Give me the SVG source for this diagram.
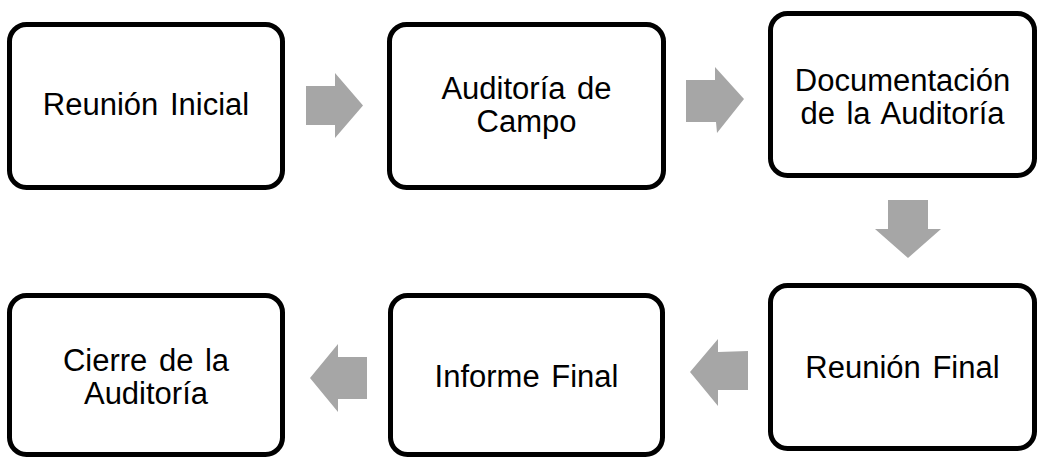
<svg xmlns="http://www.w3.org/2000/svg" width="1040" height="458" viewBox="0 0 1040 458">
<style>
.box{fill:#fff;stroke:#000;stroke-width:5}
.t{font-family:"Liberation Sans",Arial,sans-serif;font-size:31px;fill:#000;text-anchor:middle;word-spacing:3px}
.arr{fill:#a6a6a6}
</style>
<rect width="1040" height="458" fill="#fff"/>
<g id="n1"><rect class="box" x="9.5" y="24.5" width="273" height="163" rx="17"/><text class="t" x="146" y="115">Reunión Inicial</text></g>
<g id="n2"><rect class="box" x="389.5" y="24.5" width="274" height="163" rx="17"/><text class="t" x="526.5" y="99">Auditoría de</text><text class="t" x="526.5" y="132">Campo</text></g>
<g id="n3"><rect class="box" x="770.5" y="13.5" width="264" height="162" rx="17"/><text class="t" x="902.5" y="91">Documentación</text><text class="t" x="902.5" y="124">de la Auditoría</text></g>
<g id="n4"><rect class="box" x="770.5" y="285.5" width="264" height="163" rx="17"/><text class="t" x="902.5" y="378">Reunión Final</text></g>
<g id="n5"><rect class="box" x="390.5" y="295.5" width="272" height="159" rx="17"/><text class="t" x="526.5" y="387">Informe Final</text></g>
<g id="n6"><rect class="box" x="9.5" y="295.5" width="273" height="159" rx="17"/><text class="t" x="146" y="371">Cierre de la</text><text class="t" x="146" y="404">Auditoría</text></g>
<g id="connectors">
<polygon class="arr" points="306,86 335,86 335,73 363,105.5 335,138 335,125 306,125"/>
<polygon class="arr" points="686,80 715,80 715,67 744,99 717,133 716,122 686,122"/>
<polygon class="arr" points="888,200 928,200 928,229 941,229 908,258 875,229 888,229"/>
<polygon class="arr" points="748,351 718,352 718,339 690,372 718,406 718,390 748,390"/>
<polygon class="arr" points="367,357 338,357 338,344 310,378 338,412 338,399 367,399"/>
</g>
</svg>
